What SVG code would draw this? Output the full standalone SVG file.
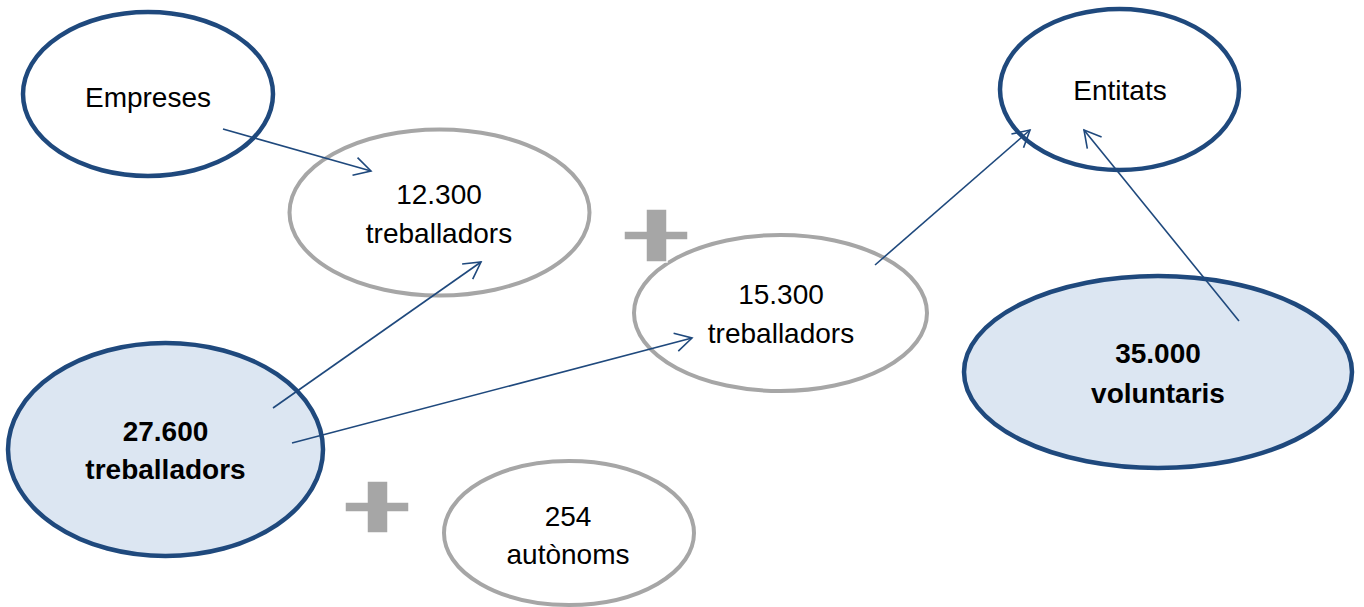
<svg xmlns="http://www.w3.org/2000/svg" width="1364" height="607" viewBox="0 0 1364 607">
  <style>
    .blue { fill: #FFFFFF; stroke: #1F497D; stroke-width: 4.5; }
    .bluefill { fill: #DCE6F2; stroke: #1F497D; stroke-width: 4.5; }
    .gray { fill: #FFFFFF; stroke: #A6A6A6; stroke-width: 4; }
    .plus { fill: #A6A6A6; stroke: #FFFFFF; stroke-width: 1.5; }
    .t { font-family: "Liberation Sans", Arial, sans-serif; font-size: 28px; fill: #000000; text-anchor: middle; }
    .b { font-weight: bold; }
    .conn { fill: none; stroke: #1F497D; stroke-width: 1.6; marker-end: url(#arrow); }
  </style>
  <defs>
    <marker id="arrow" markerUnits="userSpaceOnUse" viewBox="-20 -12 24 24" markerWidth="24" markerHeight="24" refX="0" refY="0" orient="auto" overflow="visible">
      <path d="M-16.6,-9.2 L0,0 L-16.6,9.2" fill="none" stroke="#1F497D" stroke-width="1.6"/>
    </marker>
  </defs>
  <rect width="1364" height="607" fill="#FFFFFF"/>

  <g id="empreses">
    <ellipse class="blue" cx="148" cy="94" rx="125" ry="82"/>
    <text class="t" x="148" y="107">Empreses</text>
  </g>
  <g id="n12300">
    <ellipse class="gray" cx="439.5" cy="212.5" rx="150" ry="83"/>
    <text class="t" x="439" y="204">12.300</text>
    <text class="t" x="439" y="243">treballadors</text>
  </g>
  <g id="n15300">
    <ellipse class="gray" cx="780.5" cy="313" rx="146.5" ry="78"/>
    <text class="t" x="781" y="304">15.300</text>
    <text class="t" x="781" y="343">treballadors</text>
  </g>
  <g id="plus1">
    <path class="plus" d="M646,209 H667 V231 H688 V240 H667 V262 H646 V240 H624 V231 H646 Z"/>
  </g>
  <g id="n27600">
    <ellipse class="bluefill" cx="165.5" cy="449.5" rx="157.5" ry="106.5"/>
    <text class="t b" x="165.5" y="441">27.600</text>
    <text class="t b" x="165.5" y="479">treballadors</text>
  </g>
  <g id="plus2">
    <path class="plus" d="M367,481 H388 V502 H409 V512 H388 V533 H367 V512 H345 V502 H367 Z"/>
  </g>
  <g id="n254">
    <ellipse class="gray" cx="569" cy="533" rx="125" ry="72"/>
    <text class="t" x="568" y="526">254</text>
    <text class="t" x="568" y="564">autònoms</text>
  </g>
  <g id="entitats">
    <ellipse class="blue" cx="1119.5" cy="89.5" rx="119.5" ry="80.5"/>
    <text class="t" x="1120" y="100">Entitats</text>
  </g>
  <g id="n35000">
    <ellipse class="bluefill" cx="1158" cy="372" rx="194" ry="96"/>
    <text class="t b" x="1158" y="363">35.000</text>
    <text class="t b" x="1158" y="403">voluntaris</text>
  </g>

  <g id="connectors">
    <line class="conn" x1="223" y1="129" x2="371" y2="171"/>
    <line class="conn" x1="273" y1="408" x2="481" y2="262"/>
    <line class="conn" x1="292" y1="443" x2="692" y2="338"/>
    <line class="conn" x1="875" y1="265" x2="1030" y2="130"/>
    <line class="conn" x1="1239" y1="321" x2="1084" y2="130"/>
  </g>
</svg>
